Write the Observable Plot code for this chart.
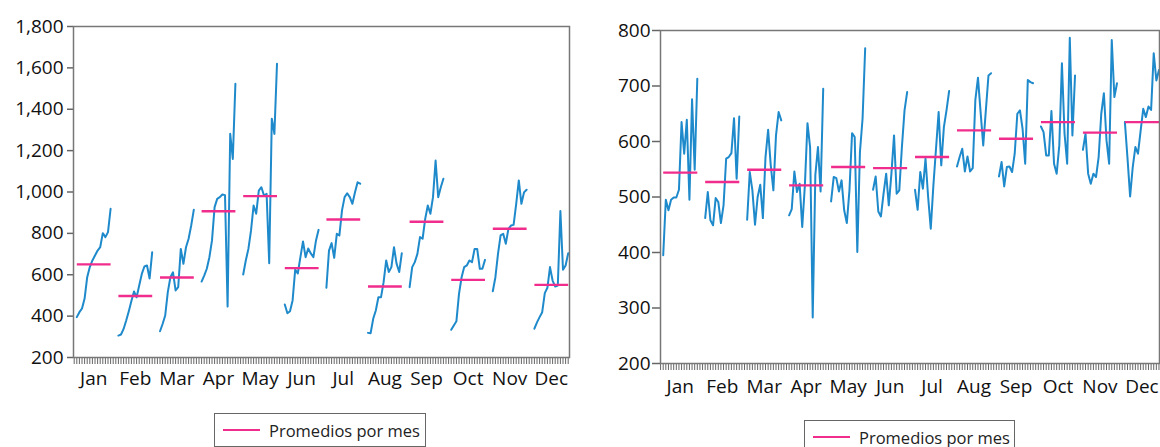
<!DOCTYPE html>
<html><head><meta charset="utf-8">
<script src="https://cdn.jsdelivr.net/npm/d3@7"></script>
<script src="https://cdn.jsdelivr.net/npm/@observablehq/plot@0.6"></script>
<style>
body{margin:0;background:#fff;width:1160px;height:447px;overflow:hidden;position:relative;font-family:"Open Sans",sans-serif;}
.chart{position:absolute;top:0;}
.legend{position:absolute;border:1px solid #666;background:#fff;display:flex;align-items:center;font-size:16.5px;color:#222;box-sizing:border-box;font-family:"Open Sans",sans-serif;}
.legend .sw{display:inline-block;width:37px;height:0;border-top:2px solid #f02c8c;margin:0 9px 0 8px;}
</style></head><body>
<div id="left" class="chart" style="left:0"></div>
<div id="right" class="chart" style="left:580px"></div>
<div class="legend" style="left:214px;top:413px;width:212px;height:34px"><span class="sw"></span>Promedios por mes</div>
<div class="legend" style="left:804px;top:420px;width:211px;height:34px"><span class="sw"></span>Promedios por mes</div>
<script>
const months = ["Jan","Feb","Mar","Apr","May","Jun","Jul","Aug","Sep","Oct","Nov","Dec"];

const leftValues = [
  [395, 419, 437, 485, 588, 637, 669, 693, 717, 733, 801, 782, 806, 919],
  [306, 311, 338, 379, 424, 473, 519, 491, 548, 604, 640, 645, 582, 709],
  [327, 362, 403, 516, 588, 612, 524, 540, 725, 653, 733, 774, 838, 914],
  [567, 596, 629, 685, 766, 927, 967, 975, 988, 985, 446, 1281, 1160, 1523],
  [601, 669, 725, 813, 935, 895, 1007, 1023, 983, 991, 656, 1354, 1281, 1620],
  [456, 414, 424, 476, 625, 606, 685, 761, 685, 727, 703, 685, 766, 817],
  [537, 717, 753, 682, 798, 790, 911, 975, 994, 975, 943, 999, 1047, 1040],
  [319, 317, 387, 427, 491, 491, 564, 669, 613, 637, 733, 653, 613, 704],
  [540, 637, 661, 701, 782, 774, 870, 935, 895, 975, 1152, 975, 1023, 1064],
  [334, 355, 375, 508, 588, 637, 645, 669, 661, 725, 725, 629, 629, 672],
  [520, 588, 701, 790, 798, 750, 822, 838, 841, 943, 1056, 943, 998, 1011],
  [339, 370, 395, 419, 511, 537, 637, 572, 543, 548, 908, 624, 645, 704]
];
const leftMeans = [650, 497, 587, 907, 980, 632, 867, 543, 856, 575, 822, 551];
const leftTicks = [200, 400, 600, 800, 1000, 1200, 1400, 1600, 1800];

const rightValues = [
  [395, 495, 476, 495, 499, 499, 513, 635, 578, 639, 495, 676, 549, 713],
  [462, 509, 458, 449, 498, 491, 453, 485, 569, 572, 579, 642, 533, 645],
  [459, 545, 512, 450, 500, 522, 462, 572, 621, 557, 512, 611, 653, 638],
  [467, 478, 546, 509, 524, 446, 520, 633, 590, 283, 540, 590, 510, 695],
  [492, 536, 534, 510, 530, 476, 453, 512, 615, 608, 401, 581, 641, 768],
  [513, 537, 474, 465, 506, 542, 485, 542, 611, 506, 512, 590, 656, 689],
  [513, 477, 545, 515, 569, 500, 443, 521, 587, 653, 557, 626, 656, 691],
  [555, 572, 587, 546, 573, 546, 552, 675, 715, 653, 593, 656, 719, 723],
  [537, 563, 519, 554, 555, 545, 578, 650, 656, 623, 560, 711, 707, 705],
  [627, 617, 575, 575, 655, 560, 542, 593, 741, 614, 560, 787, 611, 719],
  [585, 614, 542, 524, 542, 536, 572, 650, 687, 602, 560, 783, 680, 705],
  [635, 570, 501, 554, 590, 578, 619, 659, 644, 663, 657, 759, 710, 729]
];
const rightMeans = [544, 527, 549, 521, 554, 552, 572, 620, 605, 635, 616, 635];
const rightTicks = [200, 300, 400, 500, 600, 700, 800];

const SLOTS = 16;

function makeChart(o) {
  const rows = o.values.flatMap((arr, m) => arr.map((v, i) => ({x: m * SLOTS + i, y: v, month: months[m]})));
  const meanRows = o.means.map((v, m) => ({x1: m * SLOTS, x2: m * SLOTS + o.values[m].length - 1, y: v}));
  const centers = months.map((_, m) => m * SLOTS + (o.values[m].length - 1) / 2);
  const slotTicks = d3.range(Math.ceil(o.xDomain[0]), Math.floor(o.xDomain[1]) + 1);
  return Plot.plot({
    width: o.width, height: o.height,
    marginLeft: o.ml, marginRight: o.mr, marginTop: o.mt, marginBottom: o.mb,
    style: {fontFamily: "'Open Sans', sans-serif", fontSize: "19px", color: "#111", background: "transparent", overflow: "visible"},
    x: {domain: o.xDomain, axis: null},
    y: {domain: o.yDomain, axis: null},
    marks: [
      Plot.axisY({ticks: o.yTicks, tickFormat: o.yFormat, tickSize: o.yTickSize, tickPadding: o.yPad, label: null, stroke: "#666", strokeWidth: 1.5}),
      Plot.axisX({ticks: slotTicks, tickSize: 7, tickFormat: () => "", label: null, stroke: "#666", strokeWidth: 1}),
      Plot.axisX({ticks: centers, tickSize: 0, tickPadding: o.xPad, label: null, tickFormat: d => months[Math.round((d - 6.5) / SLOTS)]}),
      Plot.line(rows, {x: "x", y: "y", z: "month", stroke: "#1f8acb", strokeWidth: 2}),
      Plot.link(meanRows, {x1: "x1", x2: "x2", y1: "y", y2: "y", stroke: "#f02c8c", strokeWidth: 2.4}),
      Plot.frame({stroke: "#777", strokeWidth: 1.5})
    ]
  });
}

document.getElementById("left").append(makeChart({
  values: leftValues, means: leftMeans, yDomain: [200, 1800], yTicks: leftTicks, yFormat: d3.format(","),
  width: 580, height: 400, ml: 73, mr: 11, mt: 26, mb: 43,
  xDomain: [-1.27, 189.5], yTickSize: 6, yPad: 4, xPad: 14
}));
document.getElementById("right").append(makeChart({
  values: rightValues, means: rightMeans, yDomain: [200, 800], yTicks: rightTicks, yFormat: d3.format("d"),
  width: 580, height: 410, ml: 80, mr: 1, mt: 30, mb: 47,
  xDomain: [-1.03, 189.2], yTickSize: 8, yPad: 2, xPad: 16
}));
</script>
</body></html>
